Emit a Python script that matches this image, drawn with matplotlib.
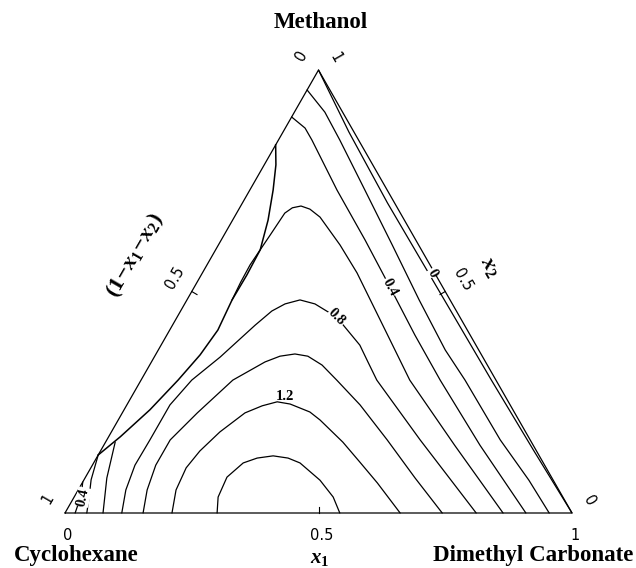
import numpy as np
import matplotlib.pyplot as plt

plt.rcParams["mathtext.fontset"] = "custom"
plt.rcParams["mathtext.rm"] = "Liberation Serif:bold"
plt.rcParams["mathtext.it"] = "Liberation Serif:italic:bold"
plt.rcParams["mathtext.bf"] = "Liberation Serif:bold"

# contour lines: x1 = dimethyl carbonate, x2 = methanol
lvl_00_x1 = [0.0, 0.13, 0.286, 0.448, 0.691, 0.855, 1.0]
lvl_00_x2 = [1.0, 0.86, 0.70, 0.54, 0.30, 0.14, 0.0]

lvl_02a_x1 = [0.0, 0.060, 0.121, 0.227, 0.343, 0.458, 0.566, 0.639, 0.776, 0.878, 0.955]
lvl_02a_x2 = [0.955, 0.905, 0.842, 0.729, 0.605, 0.481, 0.368, 0.300, 0.165, 0.074, 0.0]
lvl_02b_x1 = [0.020, 0.012, 0.0]
lvl_02b_x2 = [0.0, 0.040, 0.070]

lvl_04a_x1 = [0.0, 0.039, 0.066, 0.172, 0.284, 0.386, 0.489, 0.590, 0.742, 0.909]
lvl_04a_x2 = [0.894, 0.869, 0.842, 0.729, 0.616, 0.510, 0.402, 0.300, 0.153, 0.0]
lvl_04b_x1 = [0.043, 0.030, 0.014, 0.0]
lvl_04b_x2 = [0.0, 0.035, 0.075, 0.131]

lvl_06a_x1 = [0.089, 0.086, 0.085, 0.088, 0.091, 0.095, 0.104, 0.119, 0.140, 0.169, 0.240, 0.305,
              0.425, 0.530, 0.692, 0.864]
lvl_06a_x2 = [0.481, 0.521, 0.560, 0.595, 0.628, 0.677, 0.689, 0.693, 0.686, 0.668, 0.605, 0.542,
              0.413, 0.300, 0.153, 0.0]
lvl_06b_x1 = [0.075, 0.043, 0.019]
lvl_06b_x2 = [0.0, 0.079, 0.160]

lvl_08_x1 = [0.112, 0.094, 0.084, 0.085, 0.085, 0.100, 0.130, 0.163, 0.180, 0.198, 0.223, 0.257,
             0.315, 0.392, 0.427, 0.465, 0.618, 0.811]
lvl_08_x2 = [0.0, 0.052, 0.108, 0.165, 0.244, 0.300, 0.352, 0.424, 0.456, 0.472, 0.481, 0.472,
             0.442, 0.379, 0.341, 0.300, 0.165, 0.0]

lvl_10_x1 = [0.154, 0.136, 0.125, 0.125, 0.148, 0.181, 0.224, 0.247, 0.274, 0.302, 0.340, 0.386,
             0.460, 0.553, 0.651, 0.744]
lvl_10_x2 = [0.0, 0.052, 0.108, 0.165, 0.226, 0.300, 0.341, 0.354, 0.359, 0.354, 0.334, 0.300,
             0.244, 0.165, 0.079, 0.0]

lvl_12_x1 = [0.211, 0.193, 0.188, 0.196, 0.214, 0.242, 0.268, 0.293, 0.321, 0.369, 0.398, 0.468,
             0.524, 0.582, 0.661]
lvl_12_x2 = [0.0, 0.052, 0.102, 0.140, 0.183, 0.226, 0.242, 0.251, 0.246, 0.228, 0.210, 0.160,
             0.115, 0.068, 0.0]

lvl_14_x1 = [0.300, 0.284, 0.279, 0.295, 0.317, 0.346, 0.378, 0.407, 0.466, 0.511, 0.542]
lvl_14_x2 = [0.0, 0.036, 0.081, 0.113, 0.124, 0.129, 0.124, 0.113, 0.074, 0.036, 0.0]

# phase boundary (binodal) between the left edge points
binodal_x1 = [0.0, 0.023, 0.046, 0.070, 0.088, 0.090, 0.089, 0.095, 0.088, 0.073, 0.051, 0.023, 0.0]
binodal_x2 = [0.831, 0.786, 0.729, 0.661, 0.594, 0.537, 0.481, 0.413, 0.357, 0.300, 0.233, 0.172, 0.131]

# inline contour labels
clabel_text = ["0", "0.4", "0.8", "1.2", "0.4"]
clabel_x1 = [0.453, 0.386, 0.315, 0.303, 0.018]
clabel_x2 = [0.542, 0.510, 0.442, 0.262, 0.036]

tick_vals = [0.0, 0.5, 1.0]
tick_text = ["0", "0.5", "1"]


def tern(x1, x2):
    x1 = np.asarray(x1, dtype=float)
    x2 = np.asarray(x2, dtype=float)
    return x1 + 0.5 * x2, np.sqrt(3) / 2 * x2


fig = plt.figure(figsize=(6.36, 5.68), dpi=100)
ax = fig.add_axes([0, 0, 1, 1])
ax.set_xlim(-65 / 507, 571 / 507)
ax.set_ylim(-55 / 511.5, 513 / 511.5)
ax.axis("off")

line_kw = dict(color="black", lw=0.9, solid_joinstyle="round", solid_capstyle="round")

# triangle
ex, ey = tern([0, 1, 0, 0], [0, 0, 1, 0])
ax.plot(ex, ey, **line_kw)

lines = [
    (lvl_00_x1, lvl_00_x2), (lvl_02a_x1, lvl_02a_x2), (lvl_02b_x1, lvl_02b_x2),
    (lvl_04a_x1, lvl_04a_x2), (lvl_04b_x1, lvl_04b_x2),
    (lvl_06a_x1, lvl_06a_x2), (lvl_06b_x1, lvl_06b_x2),
    (lvl_08_x1, lvl_08_x2), (lvl_10_x1, lvl_10_x2),
    (lvl_12_x1, lvl_12_x2), (lvl_14_x1, lvl_14_x2),
]
for a, b in lines:
    px, py = tern(a, b)
    ax.plot(px, py, **line_kw)

bx, by = tern(binodal_x1, binodal_x2)
ax.plot(bx, by, color="black", lw=1.1, solid_joinstyle="round")

rots = [-60, -62, -45, 0, 78]
for t, a, b, r in zip(clabel_text, clabel_x1, clabel_x2, rots):
    px, py = tern(a, b)
    bg = None if t == "1.2" else dict(facecolor="white", edgecolor="none", pad=0.3)
    ax.text(px, py, t, rotation=r, ha="center", va="center", fontsize=10.5,
            family="Liberation Serif", weight="bold", bbox=bg, zorder=3)

# ticks at 0.5 on each side
tl = 0.012
s3 = np.sqrt(3) / 2
mx, my = tern(0.5, 0.0)
ax.plot([mx, mx], [my, my + tl], color="black", lw=0.8)
mx, my = tern(0.5, 0.5)
ax.plot([mx, mx - tl * s3], [my, my - tl * 0.5], color="black", lw=0.8)
mx, my = tern(0.0, 0.5)
ax.plot([mx, mx + tl * s3], [my, my - tl * 0.5], color="black", lw=0.8)

tick_kw = dict(textcoords="offset pixels", ha="center", va="center",
               fontsize=10.5, family="DejaVu Sans")
for v, t in zip(tick_vals, tick_text):
    ax.annotate(t, tern(v, 0.0), xytext=(3, -22), **tick_kw)
    ax.annotate(t, tern(1 - v, v), xytext=(17, 12), rotation=-60, **tick_kw)
    ax.annotate(t, tern(0.0, 1 - v), xytext=(-17, 14), rotation=60, **tick_kw)

name_kw = dict(textcoords="offset pixels", ha="center", va="center",
               fontsize=16.5, family="Liberation Serif", weight="bold")
ax.annotate("Methanol", tern(0, 1), xytext=(2, 48), **name_kw)
ax.annotate("Cyclohexane", tern(0, 0), xytext=(11, -43), **name_kw)
ax.annotate("Dimethyl Carbonate", tern(1, 0), xytext=(-39, -43), **name_kw)

ax.annotate(r"$x_1$", tern(0.5, 0), xytext=(1, -45), textcoords="offset pixels",
            ha="center", va="center", fontsize=15)
ax.annotate(r"$x_2$", tern(0.5, 0.5), xytext=(45, 25), textcoords="offset pixels",
            ha="center", va="center", fontsize=16, rotation=-60)
ax.annotate(r"$(1\!-\!x_1\!-\!x_2)$", tern(0, 0.5), xytext=(-56, 36), textcoords="offset pixels",
            ha="center", va="center", fontsize=16, rotation=60)

fig.savefig("out.png", dpi=100)
